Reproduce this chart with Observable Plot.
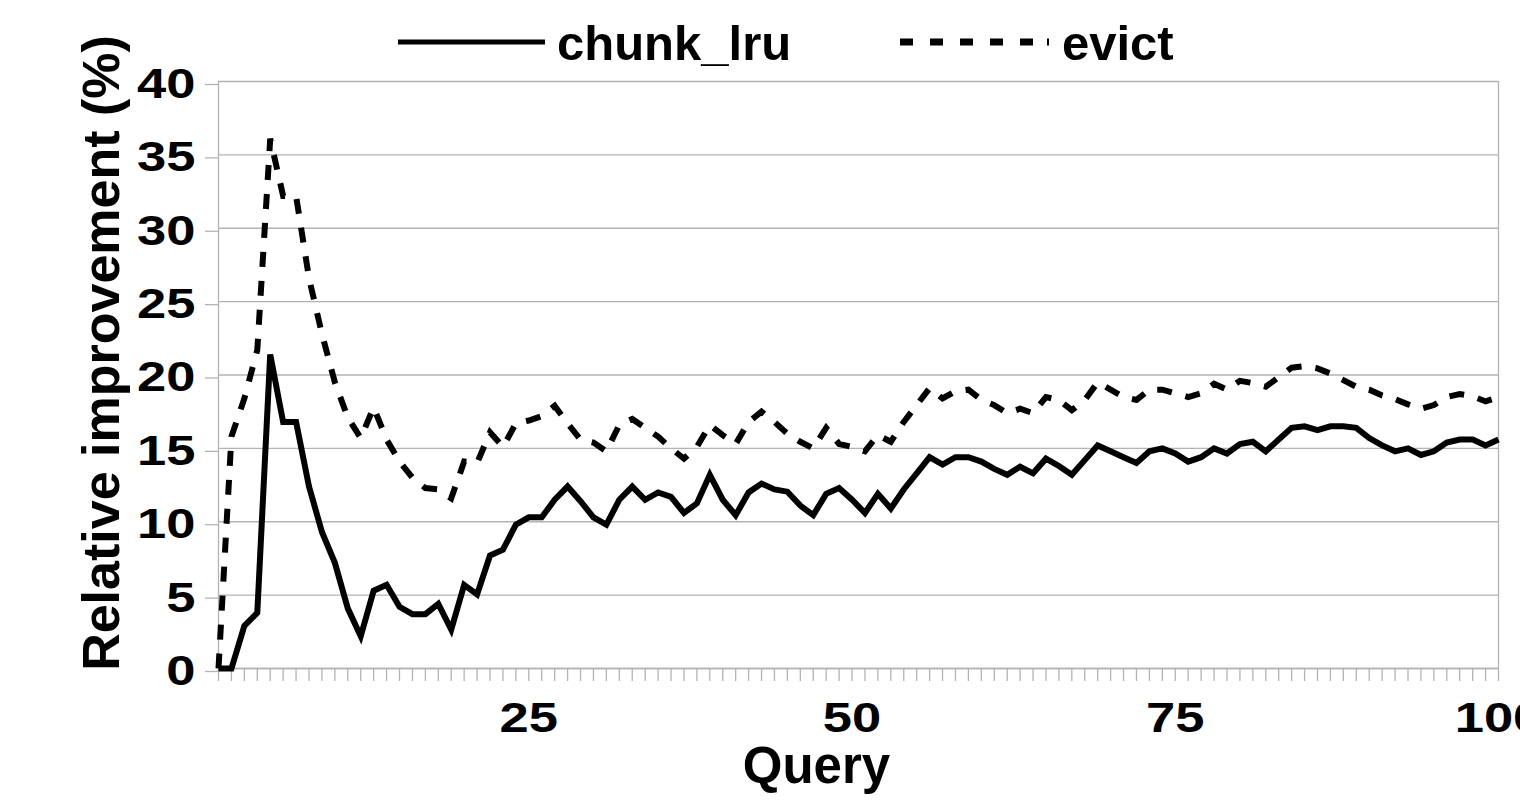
<!DOCTYPE html>
<html><head><meta charset="utf-8">
<script src="https://cdn.jsdelivr.net/npm/d3@7"></script>
<script src="https://cdn.jsdelivr.net/npm/@observablehq/plot@0.6"></script>
<style>
html,body{margin:0;padding:0;background:#fff;overflow:hidden;width:1520px;height:808px}
#legend{display:block}
#chart svg{overflow:visible}
</style></head><body>
<svg id="legend" width="1520" height="72"></svg>
<div id="chart"></div>
<script>
const queries = d3.range(1, 101);
const chunkLru = [0,0,2.9,3.8,21.4,16.8,16.8,12.4,9.3,7.2,
4.1,2.2,5.3,5.7,4.2,3.7,3.7,4.4,2.65,5.7,
5.05,7.7,8.1,9.8,10.3,10.3,11.5,12.4,11.4,10.3,
9.8,11.5,12.4,11.5,12.0,11.7,10.6,11.25,13.2,11.5,
10.45,12.0,12.6,12.2,12.05,11.1,10.45,11.9,12.3,11.5,
10.6,11.9,10.9,12.2,13.3,14.4,13.9,14.4,14.4,14.1,
13.6,13.2,13.75,13.3,14.3,13.8,13.2,14.2,15.2,14.8,
14.4,14.0,14.8,15.0,14.65,14.1,14.4,15.0,14.65,15.3,
15.45,14.8,15.6,16.4,16.5,16.25,16.5,16.5,16.4,15.7,
15.2,14.8,15.0,14.55,14.8,15.4,15.6,15.6,15.2,15.6];
const evict = [0,15.8,18.4,21.7,36.1,32.2,32.2,26.6,22.8,19.5,
17.1,15.7,17.8,15.6,14.1,13.0,12.3,12.2,11.6,14.1,
14.0,16.1,15.1,16.7,16.9,17.2,17.9,16.7,15.6,15.4,
14.8,16.6,17.0,16.4,15.8,15.0,14.3,15.1,16.6,15.9,
15.3,16.8,17.5,16.8,16.0,15.45,15.0,16.4,15.3,15.1,
14.8,15.9,15.45,16.8,17.95,19.1,18.4,18.9,19.0,18.3,
17.95,17.4,17.7,17.4,18.5,18.3,17.6,18.3,19.5,19.0,
18.5,18.3,19.0,19.0,18.75,18.5,18.75,19.4,19.0,19.6,
19.45,19.2,19.85,20.5,20.6,20.45,20.1,19.65,19.2,19.0,
18.6,18.35,18.0,17.7,17.95,18.5,18.7,18.55,18.2,18.5];
const seriesNames = ["chunk_lru", "evict"];
const yTicks = [0, 5, 10, 15, 20, 25, 30, 35, 40];
const xTickLabels = [25, 50, 75, 100];
const xTitle = "Query";
const yTitle = "Relative improvement (%)";

const FONT = '"Liberation Sans", Arial, Helvetica, sans-serif';
const GRID = "#b3b3b3";

const rowsLru = queries.map((q, i) => ({query: q, value: chunkLru[i], series: seriesNames[0]}));
const rowsEvict = queries.map((q, i) => ({query: q, value: evict[i], series: seriesNames[1]}));

// Legend (above the chart SVG)
const leg = d3.select("#legend");
leg.append("line").attr("x1", 398).attr("x2", 545).attr("y1", 42).attr("y2", 42)
  .attr("stroke", "black").attr("stroke-width", 5);
leg.append("text").attr("x", 557).attr("y", 60).text(seriesNames[0])
  .attr("font-family", FONT).attr("font-weight", "bold").attr("font-size", 49);
leg.append("line").attr("x1", 900).attr("x2", 1050).attr("y1", 42).attr("y2", 42)
  .attr("stroke", "black").attr("stroke-width", 7).attr("stroke-dasharray", "13,17");
leg.append("line").attr("x1", 1047).attr("x2", 1049).attr("y1", 42).attr("y2", 42)
  .attr("stroke", "black").attr("stroke-width", 7);
leg.append("text").attr("x", 1062).attr("y", 60).text(seriesNames[1])
  .attr("font-family", FONT).attr("font-weight", "bold").attr("font-size", 49);

const chart = Plot.plot({
  width: 1520,
  height: 736,
  marginTop: 9,
  marginBottom: 140,
  marginLeft: 218,
  marginRight: 22,
  style: {fontFamily: FONT, fontWeight: "bold", background: "white", overflow: "visible"},
  x: {domain: [1, 100]},
  y: {domain: [0, 40]},
  marks: [
    Plot.gridY(yTicks, {stroke: GRID, strokeOpacity: 1, strokeWidth: 1.3}),
    Plot.ruleX([1, 100], {stroke: GRID, strokeWidth: 1.3}),
    Plot.ruleY([0], {stroke: GRID, strokeWidth: 1.3}),
    Plot.axisY({ticks: yTicks, tickSize: 13, tickPadding: 10, stroke: GRID, strokeWidth: 1.3, fill: "black", fontSize: 42, dy: 3, label: null}),
    Plot.axisX({ticks: queries, tickSize: 13, tickFormat: () => "", stroke: GRID, strokeWidth: 1.3, label: null}),
    Plot.axisX({ticks: xTickLabels, tickSize: 0, tickPadding: 34, fill: "black", fontSize: 42, label: null}),
    Plot.text([xTitle], {frameAnchor: "bottom", textAnchor: "middle", lineAnchor: "middle", dx: -42, dy: 98, fontSize: 51, fontWeight: "bold", fill: "black"}),
    Plot.text([yTitle], {frameAnchor: "left", textAnchor: "middle", lineAnchor: "middle", rotate: -90, dx: -116, dy: -22, fontSize: 52, fontWeight: "bold", fill: "black"}),
    Plot.line(rowsLru, {x: "query", y: "value", stroke: "black", strokeWidth: 6, strokeLinejoin: "miter", strokeMiterlimit: 3, strokeLinecap: "butt"}),
    Plot.line(rowsEvict, {x: "query", y: "value", stroke: "black", strokeWidth: 6, strokeDasharray: "15,14", strokeLinejoin: "miter", strokeMiterlimit: 3, strokeLinecap: "butt"})
  ]
});
document.getElementById("chart").appendChild(chart);

// widen tick-label digits as in the reference
chart.querySelectorAll('g[aria-label="y-axis tick label"] text, g[aria-label="x-axis tick label"] text').forEach(t => {
  if (!t.textContent) return;
  const w = t.getComputedTextLength();
  if (w > 0) {
    t.setAttribute("textLength", (w * 1.25).toFixed(1));
    t.setAttribute("lengthAdjust", "spacingAndGlyphs");
  }
});
</script>
</body></html>
